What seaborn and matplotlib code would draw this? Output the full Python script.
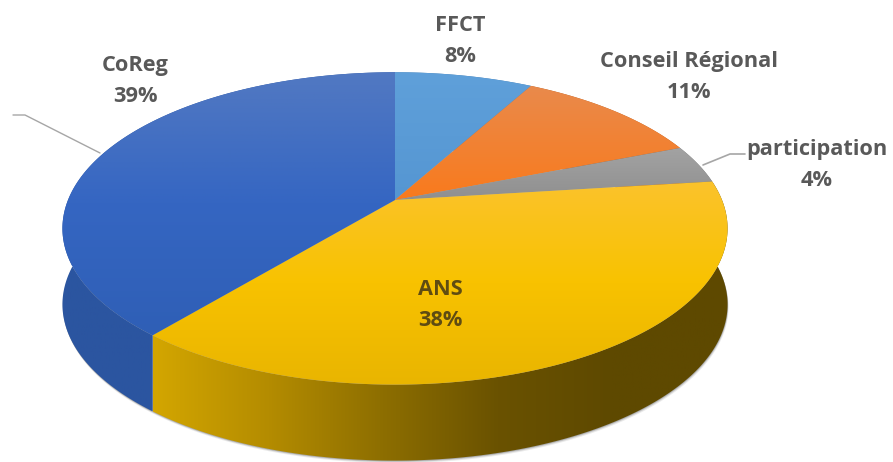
import numpy as np
import matplotlib
matplotlib.use("Agg")
import matplotlib.pyplot as plt
import seaborn as sns
from matplotlib.patches import Polygon

# parts, clockwise from the top
labels = ["FFCT", "Conseil Régional", "participation", "ANS", "CoReg"]
shares = [8, 11, 4, 38, 39]

top_colors = [["#5fa0da", "#5596d2"],
              ["#e98a4c", "#f97a1c"],
              ["#a3a3a3", "#8f8f8f"],
              ["#fbc32c", "#f8c200", "#e9b500"],
              ["#5279c2", "#3566c2", "#2f5fb6"]]
wall_colors = [["#4a7fb0", "#4a7fb0"],
               ["#b05a20", "#b05a20"],
               ["#707070", "#707070"],
               ["#d3a600", "#b48c00", "#8d6e00", "#6a5200", "#5e4900", "#5e4900"],
               ["#2b55a0", "#2b55a0"]]

sns.set_theme(style="white")
plt.rcParams["font.family"] = ["Open Sans", "DejaVu Sans"]

W, H = 893, 462
cx, cy = 395, 200   # where the slices meet
a, b, k = 327, 151, 0.182   # perspective of the disc
depth = 76


def rim(deg):
    # point of the rim, deg clockwise from the top
    t = np.radians(deg)
    u, v = np.sin(t), np.cos(t)
    w = 1 + k * v
    return cx + a * u / w, cy - b * v / w


def gradient(ax, colors, poly, vertical=True):
    cmap = sns.blend_palette(colors, as_cmap=True)
    xs, ys = poly[:, 0], poly[:, 1]
    grad = np.linspace(0, 1, 256)
    grad = grad[:, None] if vertical else grad[None, :]
    im = ax.imshow(grad, cmap=cmap, aspect="auto", zorder=3 if vertical else 2,
                   extent=[xs.min(), xs.max(), ys.max(), ys.min()])
    patch = Polygon(poly, closed=True, transform=ax.transData, fc="none", ec="none")
    ax.add_patch(patch)
    im.set_clip_path(patch)


fig = plt.figure(figsize=(W / 100, H / 100), dpi=100)
ax = fig.add_axes([0, 0, 1, 1])

# soft edge under the wall
ang = np.linspace(0, 360, 721)
rx, ry = rim(ang)
for off, alpha in [(2.5, 0.12), (1.5, 0.2), (0.7, 0.3)]:
    ax.fill(rx + off * 0.4, ry + depth + off, color="#555555", alpha=alpha, lw=0, zorder=1)

edges = np.cumsum([0] + shares) * 3.6
for i, lab in enumerate(labels):
    th = np.linspace(edges[i], edges[i + 1], 200)
    x, y = rim(th)
    # side wall, only the front part shows
    wall = np.column_stack([np.r_[x, x[::-1]], np.r_[y, (y + depth)[::-1]]])
    gradient(ax, wall_colors[i], wall, vertical=False)
    # top face
    face = np.column_stack([np.r_[cx, x], np.r_[cy, y]])
    gradient(ax, top_colors[i], face)

# leader lines
ax.plot([100, 25, 13], [153, 115, 115], color="#a6a6a6", lw=1, zorder=4)
ax.plot([703, 730, 745], [165, 154, 154], color="#a6a6a6", lw=1.2, zorder=4)

label_pos = [(460, 41), (689, 77), (817, 165), (440, 305), (135, 81)]
for i, lab in enumerate(labels):
    col = "#5f4c12" if lab == "ANS" else "#595959"
    ax.text(label_pos[i][0], label_pos[i][1], f"{lab}\n{shares[i]}%", ha="center", va="center",
            fontsize=15.7, fontweight="bold", color=col, linespacing=1.65, zorder=5)

ax.set_xlim(0, W)
ax.set_ylim(H, 0)
ax.axis("off")
fig.savefig("out.png", dpi=100)
